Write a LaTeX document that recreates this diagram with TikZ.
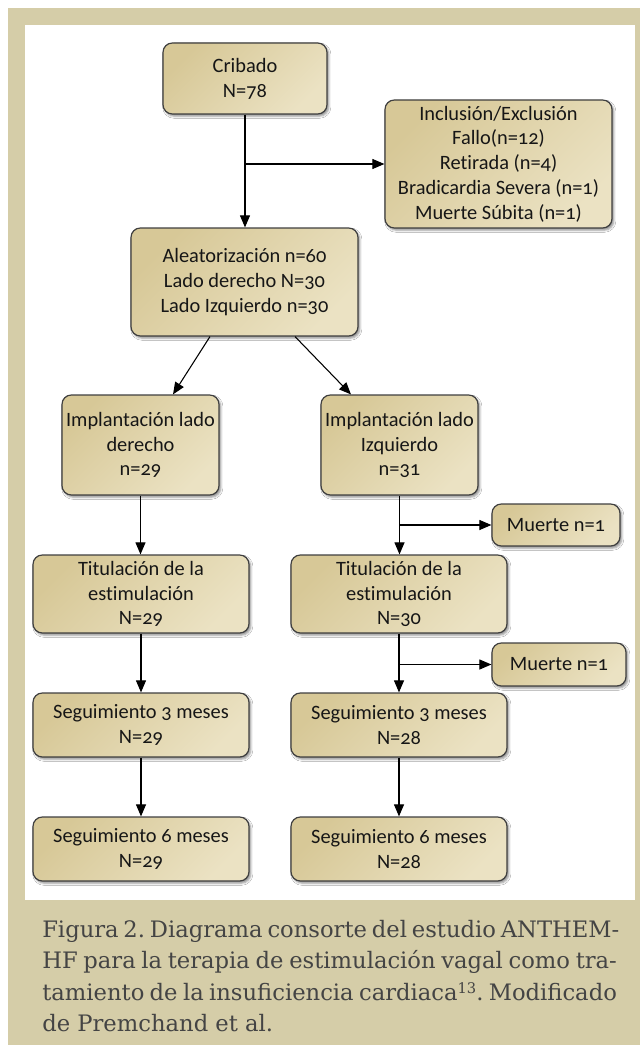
\documentclass[tikz,border=0pt]{standalone}
\usepackage{fontspec}
\setmainfont{Carlito}[Numbers=OldStyle, Ligatures=NoCommon]
\newfontfamily\capfont{DejaVu Serif}
\usetikzlibrary{arrows.meta,shadows.blur,calc}
\frenchspacing

\definecolor{frametan}{HTML}{D5CDA8}
\definecolor{boxdark}{HTML}{D7C897}
\definecolor{boxlight}{HTML}{EBE2C3}
\definecolor{boxline}{HTML}{3F3F3F}
\definecolor{boxtext}{HTML}{161616}
\definecolor{captext}{HTML}{444444}

\begin{document}
\begin{tikzpicture}[x=0.75pt,y=-0.75pt,
  flowbox/.style={draw=boxline, line width=0.9pt, rounded corners=7pt,
    top color=boxdark, bottom color=boxlight, shading angle=45,
    blur shadow={shadow xshift=1.3pt, shadow yshift=-1.6pt,
      shadow blur radius=1.6pt, shadow opacity=45},
    inner sep=0pt, align=center, text=boxtext,
    font=\fontsize{15.3}{18.6}\selectfont},
  flow/.style={-{Triangle[length=9pt,width=7.5pt]}, line width=0.8pt, black}]

% frame and panel
\useasboundingbox (0,0) rectangle (640,1045);
\fill[white] (0,0) rectangle (640,1045);
\fill[frametan] (8,8) rectangle (640,1045);
\fill[white] (25,25) rectangle (635,900);

% boxes
\node[flowbox, minimum width=123pt, minimum height=53.25pt] (crib) at (245,78.5)
  {Cribado\\N=78};
\node[flowbox, minimum width=170.25pt, minimum height=96pt] (excl) at (498.5,164)
  {Inclusión/Exclusión\\Fallo(n=12)\\Retirada (n=4)\\Bradicardia Severa (n=1)\\Muerte Súbita (n=1)};
\node[flowbox, minimum width=170.25pt, minimum height=81pt] (aleat) at (244.5,282)
  {Aleatorización n=60\\Lado derecho N=30\\Lado Izquierdo n=30};
\node[flowbox, minimum width=117.75pt, minimum height=75pt] (implD) at (140.5,445)
  {Implantación lado\\derecho\\n=29};
\node[flowbox, minimum width=117.75pt, minimum height=75pt] (implI) at (399.5,445)
  {Implantación lado\\Izquierdo\\n=31};
\node[flowbox, minimum width=96pt, minimum height=31.5pt] (m1) at (556,525)
  {Muerte n=1};
\node[flowbox, minimum width=162pt, minimum height=58.5pt] (titD) at (141,594)
  {Titulación de la\\estimulación\\N=29};
\node[flowbox, minimum width=162pt, minimum height=58.5pt] (titI) at (399,594)
  {Titulación de la\\estimulación\\N=30};
\node[flowbox, minimum width=100.5pt, minimum height=32.25pt] (m2) at (559,664.5)
  {Muerte n=1};
\node[flowbox, minimum width=162pt, minimum height=48pt] (segD3) at (141,725)
  {Seguimiento 3 meses\\N=29};
\node[flowbox, minimum width=162pt, minimum height=48pt] (segI3) at (399,725)
  {Seguimiento 3 meses\\N=28};
\node[flowbox, minimum width=162pt, minimum height=48pt] (segD6) at (141,849)
  {Seguimiento 6 meses\\N=29};
\node[flowbox, minimum width=162pt, minimum height=48pt] (segI6) at (399,849)
  {Seguimiento 6 meses\\N=28};

% connectors
\draw[flow] (crib.south) -- (crib.south |- aleat.north);
\coordinate (splitA) at (crib.south |- excl.west);
\draw[flow] (splitA) -- (excl.west);
\draw[flow] ([xshift=-25.9pt]aleat.south) -- ([xshift=24.4pt]implD.north);
\draw[flow] ([xshift=37.9pt]aleat.south) -- ([xshift=-36.4pt]implI.north);
\draw[flow] (implD.south) -- (implD.south |- titD.north);
\draw[flow] (implI.south) -- (implI.south |- titI.north);
\coordinate (splitB) at (implI.south |- m1.west);
\draw[flow] (splitB) -- (m1.west);
\draw[flow] (titD.south) -- (titD.south |- segD3.north);
\draw[flow] (titI.south) -- (titI.south |- segI3.north);
\coordinate (splitC) at (titI.south |- m2.west);
\draw[flow] (splitC) -- (m2.west);
\draw[flow] (segD3.south) -- (segD3.south |- segD6.north);
\draw[flow] (segI3.south) -- (segI3.south |- segI6.north);

% caption
\node[anchor=north west, inner sep=0pt, align=left, text=captext,
  font=\capfont\fontsize{17}{23.6}\selectfont] (cap) at (42,920)
  {\makebox[431pt][s]{Figura 2. Diagrama consorte del estudio ANTHEM-}\\
   \makebox[431pt][s]{HF para la terapia de estimulación vagal como tra-}\\
   \makebox[431pt][s]{tamiento de la insuficiencia cardiaca{\fontsize{11}{11}\selectfont\raisebox{0.45em}{13}}. Modificado}\\
   de Premchand et al.};
\end{tikzpicture}
\end{document}
